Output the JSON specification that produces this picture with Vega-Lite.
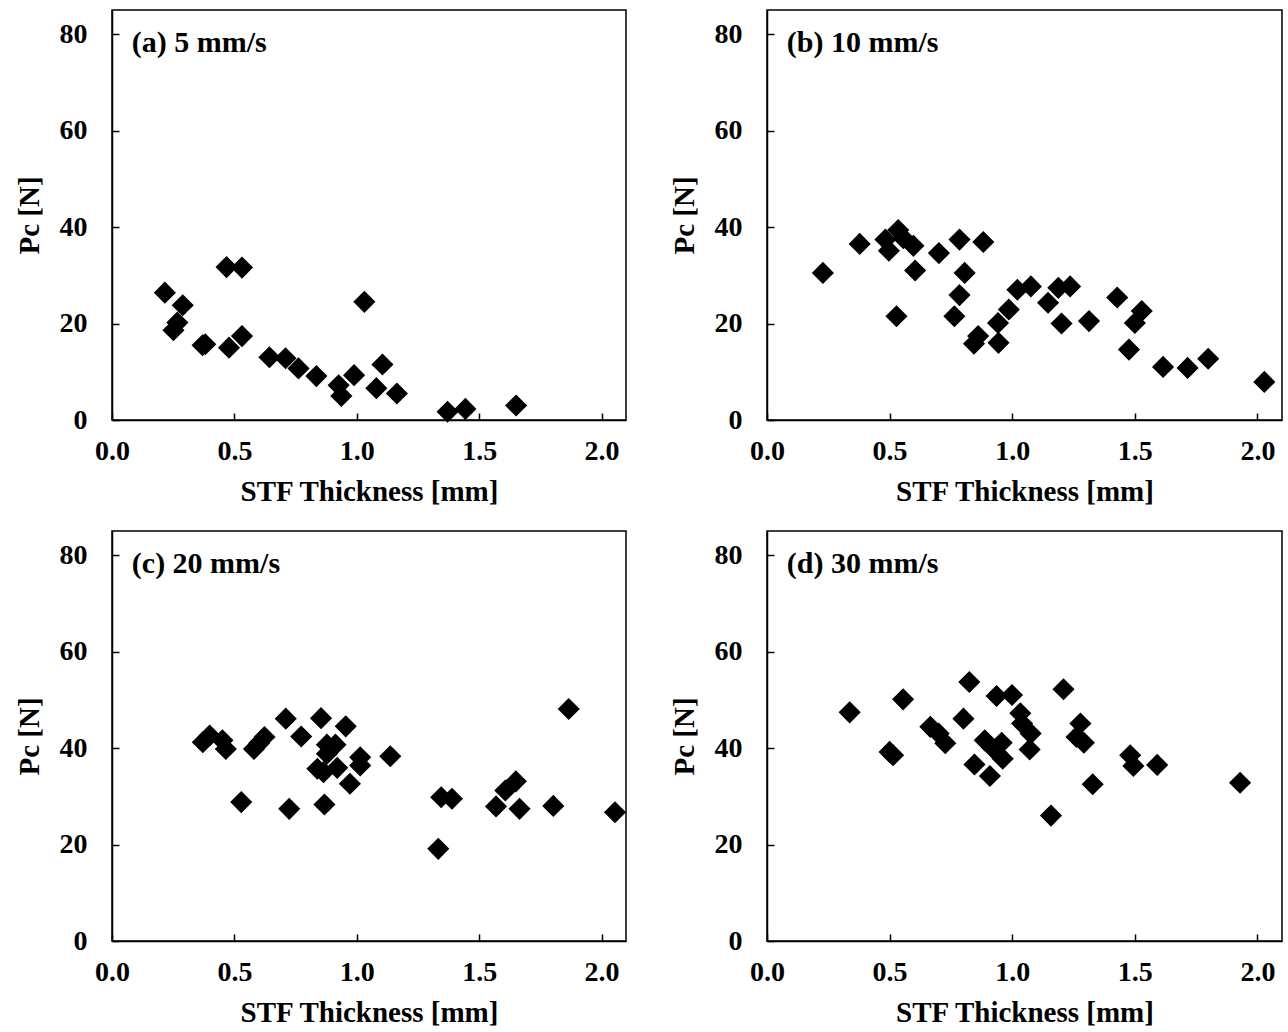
{
  "$schema": "https://vega.github.io/schema/vega-lite/v6.json",
  "background": "white",
  "padding": {"left": 14, "top": 9, "right": 0, "bottom": 0},
  "spacing": 23,
  "config": {
    "font": "Liberation Serif",
    "view": {"stroke": "black", "strokeWidth": 1.5},
    "concat": {"spacing": 42},
    "axis": {
      "labelFont": "Liberation Serif",
      "labelFontWeight": "bold",
      "labelFontSize": 28,
      "labelColor": "black",
      "titleFont": "Liberation Serif",
      "titleFontWeight": "bold",
      "titleFontSize": 29,
      "titleColor": "black",
      "grid": false,
      "domainColor": "black",
      "domainWidth": 1.5,
      "tickColor": "black",
      "tickWidth": 1.5,
      "tickSize": -7,
      "labelFlush": false,
      "labelOverlap": false
    },
    "axisX": {"labelPadding": 24, "titlePadding": 12},
    "axisY": {"labelPadding": 32, "titlePadding": 15}
  },
  "datasets": {
    "a": [
      {"t": 0.216, "p": 26.4}, {"t": 0.289, "p": 23.8}, {"t": 0.267, "p": 20.2}, {"t": 0.251, "p": 18.6},
      {"t": 0.370, "p": 15.5}, {"t": 0.381, "p": 15.7}, {"t": 0.468, "p": 31.7}, {"t": 0.531, "p": 31.6},
      {"t": 0.478, "p": 15.0}, {"t": 0.531, "p": 17.4}, {"t": 0.643, "p": 13.0}, {"t": 0.709, "p": 12.8},
      {"t": 0.762, "p": 10.7}, {"t": 0.835, "p": 9.1}, {"t": 0.926, "p": 7.2}, {"t": 0.937, "p": 5.0},
      {"t": 0.989, "p": 9.3}, {"t": 1.031, "p": 24.5}, {"t": 1.105, "p": 11.5}, {"t": 1.080, "p": 6.6},
      {"t": 1.164, "p": 5.5}, {"t": 1.371, "p": 1.7}, {"t": 1.444, "p": 2.3}, {"t": 1.651, "p": 3.0}
    ],
    "b": [
      {"t": 0.228, "p": 30.5}, {"t": 0.378, "p": 36.5}, {"t": 0.483, "p": 37.4}, {"t": 0.497, "p": 35.1},
      {"t": 0.535, "p": 39.4}, {"t": 0.556, "p": 37.7}, {"t": 0.597, "p": 36.1}, {"t": 0.528, "p": 21.5},
      {"t": 0.604, "p": 31.0}, {"t": 0.701, "p": 34.6}, {"t": 0.785, "p": 37.4}, {"t": 0.882, "p": 36.9},
      {"t": 0.806, "p": 30.5}, {"t": 0.785, "p": 25.9}, {"t": 0.764, "p": 21.5}, {"t": 0.861, "p": 17.4},
      {"t": 0.844, "p": 15.8}, {"t": 0.944, "p": 16.0}, {"t": 0.942, "p": 20.1}, {"t": 0.986, "p": 22.9},
      {"t": 1.021, "p": 27.0}, {"t": 1.076, "p": 27.7}, {"t": 1.146, "p": 24.3}, {"t": 1.188, "p": 27.4},
      {"t": 1.236, "p": 27.7}, {"t": 1.201, "p": 20.0}, {"t": 1.313, "p": 20.5}, {"t": 1.428, "p": 25.4},
      {"t": 1.528, "p": 22.6}, {"t": 1.500, "p": 20.1}, {"t": 1.476, "p": 14.6}, {"t": 1.615, "p": 11.0},
      {"t": 1.715, "p": 10.8}, {"t": 1.799, "p": 12.7}, {"t": 2.028, "p": 7.9}
    ],
    "c": [
      {"t": 0.371, "p": 41.2}, {"t": 0.399, "p": 42.6}, {"t": 0.451, "p": 41.6}, {"t": 0.465, "p": 39.8},
      {"t": 0.528, "p": 28.8}, {"t": 0.580, "p": 39.8}, {"t": 0.623, "p": 42.3}, {"t": 0.601, "p": 41.0},
      {"t": 0.710, "p": 46.1}, {"t": 0.724, "p": 27.4}, {"t": 0.773, "p": 42.4}, {"t": 0.854, "p": 46.2},
      {"t": 0.878, "p": 40.7}, {"t": 0.913, "p": 40.7}, {"t": 0.878, "p": 38.8}, {"t": 0.839, "p": 35.7},
      {"t": 0.864, "p": 35.0}, {"t": 0.920, "p": 35.9}, {"t": 0.868, "p": 28.3}, {"t": 0.955, "p": 44.5},
      {"t": 0.972, "p": 32.6}, {"t": 1.014, "p": 38.1}, {"t": 1.014, "p": 36.4}, {"t": 1.137, "p": 38.3},
      {"t": 1.333, "p": 19.1}, {"t": 1.345, "p": 29.8}, {"t": 1.389, "p": 29.5}, {"t": 1.569, "p": 27.9},
      {"t": 1.607, "p": 31.2}, {"t": 1.650, "p": 33.1}, {"t": 1.665, "p": 27.4}, {"t": 1.803, "p": 28.0},
      {"t": 1.866, "p": 48.1}, {"t": 2.055, "p": 26.7}
    ],
    "d": [
      {"t": 0.337, "p": 47.4}, {"t": 0.555, "p": 50.1}, {"t": 0.500, "p": 39.2}, {"t": 0.514, "p": 38.5},
      {"t": 0.666, "p": 44.4}, {"t": 0.700, "p": 43.0}, {"t": 0.727, "p": 41.0}, {"t": 0.801, "p": 46.1},
      {"t": 0.825, "p": 53.7}, {"t": 0.846, "p": 36.6}, {"t": 0.888, "p": 41.6}, {"t": 0.909, "p": 34.2},
      {"t": 0.936, "p": 50.8}, {"t": 0.999, "p": 51.0}, {"t": 0.922, "p": 39.9}, {"t": 0.957, "p": 41.1},
      {"t": 0.961, "p": 37.8}, {"t": 1.033, "p": 47.2}, {"t": 1.040, "p": 45.1}, {"t": 1.075, "p": 43.0},
      {"t": 1.071, "p": 39.7}, {"t": 1.158, "p": 26.0}, {"t": 1.209, "p": 52.2}, {"t": 1.278, "p": 45.1},
      {"t": 1.262, "p": 42.3}, {"t": 1.292, "p": 41.1}, {"t": 1.328, "p": 32.5}, {"t": 1.481, "p": 38.5},
      {"t": 1.494, "p": 36.3}, {"t": 1.591, "p": 36.5}, {"t": 1.929, "p": 32.8}
    ],
    "labels": [
      {"panel": "a", "label": "(a) 5 mm/s"},
      {"panel": "b", "label": "(b) 10 mm/s"},
      {"panel": "c", "label": "(c) 20 mm/s"},
      {"panel": "d", "label": "(d) 30 mm/s"}
    ]
  },
  "vconcat": [
    {
      "hconcat": [
        {
          "width": 514, "height": 410,
          "layer": [
            {
              "data": {"name": "a"},
              "mark": {"type": "point", "shape": "diamond", "filled": true, "color": "black", "size": 490, "opacity": 1},
              "encoding": {
                "x": {"field": "t", "type": "quantitative", "scale": {"domain": [0, 2.1], "nice": false, "zero": false}, "axis": {"values": [0, 0.5, 1, 1.5, 2], "format": ".1f", "title": "STF Thickness [mm]"}},
                "y": {"field": "p", "type": "quantitative", "scale": {"domain": [0, 85], "nice": false}, "axis": {"values": [0, 20, 40, 60, 80], "format": "d", "title": "Pc [N]"}}
              }
            },
            {
              "data": {"name": "labels"},
              "transform": [{"filter": "datum.panel === 'a'"}],
              "mark": {"type": "text", "align": "left", "baseline": "middle", "font": "Liberation Serif", "fontWeight": "bold", "fontSize": 30, "color": "black"},
              "encoding": {"x": {"datum": 0.081}, "y": {"datum": 78.2}, "text": {"field": "label"}}
            }
          ]
        },
        {
          "width": 515, "height": 410,
          "layer": [
            {
              "data": {"name": "b"},
              "mark": {"type": "point", "shape": "diamond", "filled": true, "color": "black", "size": 490, "opacity": 1},
              "encoding": {
                "x": {"field": "t", "type": "quantitative", "scale": {"domain": [0, 2.1], "nice": false, "zero": false}, "axis": {"values": [0, 0.5, 1, 1.5, 2], "format": ".1f", "title": "STF Thickness [mm]"}},
                "y": {"field": "p", "type": "quantitative", "scale": {"domain": [0, 85], "nice": false}, "axis": {"values": [0, 20, 40, 60, 80], "format": "d", "title": "Pc [N]"}}
              }
            },
            {
              "data": {"name": "labels"},
              "transform": [{"filter": "datum.panel === 'b'"}],
              "mark": {"type": "text", "align": "left", "baseline": "middle", "font": "Liberation Serif", "fontWeight": "bold", "fontSize": 30, "color": "black"},
              "encoding": {"x": {"datum": 0.081}, "y": {"datum": 78.2}, "text": {"field": "label"}}
            }
          ]
        }
      ]
    },
    {
      "hconcat": [
        {
          "width": 514, "height": 410,
          "layer": [
            {
              "data": {"name": "c"},
              "mark": {"type": "point", "shape": "diamond", "filled": true, "color": "black", "size": 490, "opacity": 1},
              "encoding": {
                "x": {"field": "t", "type": "quantitative", "scale": {"domain": [0, 2.1], "nice": false, "zero": false}, "axis": {"values": [0, 0.5, 1, 1.5, 2], "format": ".1f", "title": "STF Thickness [mm]"}},
                "y": {"field": "p", "type": "quantitative", "scale": {"domain": [0, 85], "nice": false}, "axis": {"values": [0, 20, 40, 60, 80], "format": "d", "title": "Pc [N]"}}
              }
            },
            {
              "data": {"name": "labels"},
              "transform": [{"filter": "datum.panel === 'c'"}],
              "mark": {"type": "text", "align": "left", "baseline": "middle", "font": "Liberation Serif", "fontWeight": "bold", "fontSize": 30, "color": "black"},
              "encoding": {"x": {"datum": 0.081}, "y": {"datum": 78.2}, "text": {"field": "label"}}
            }
          ]
        },
        {
          "width": 515, "height": 410,
          "layer": [
            {
              "data": {"name": "d"},
              "mark": {"type": "point", "shape": "diamond", "filled": true, "color": "black", "size": 490, "opacity": 1},
              "encoding": {
                "x": {"field": "t", "type": "quantitative", "scale": {"domain": [0, 2.1], "nice": false, "zero": false}, "axis": {"values": [0, 0.5, 1, 1.5, 2], "format": ".1f", "title": "STF Thickness [mm]"}},
                "y": {"field": "p", "type": "quantitative", "scale": {"domain": [0, 85], "nice": false}, "axis": {"values": [0, 20, 40, 60, 80], "format": "d", "title": "Pc [N]"}}
              }
            },
            {
              "data": {"name": "labels"},
              "transform": [{"filter": "datum.panel === 'd'"}],
              "mark": {"type": "text", "align": "left", "baseline": "middle", "font": "Liberation Serif", "fontWeight": "bold", "fontSize": 30, "color": "black"},
              "encoding": {"x": {"datum": 0.081}, "y": {"datum": 78.2}, "text": {"field": "label"}}
            }
          ]
        }
      ]
    }
  ]
}
